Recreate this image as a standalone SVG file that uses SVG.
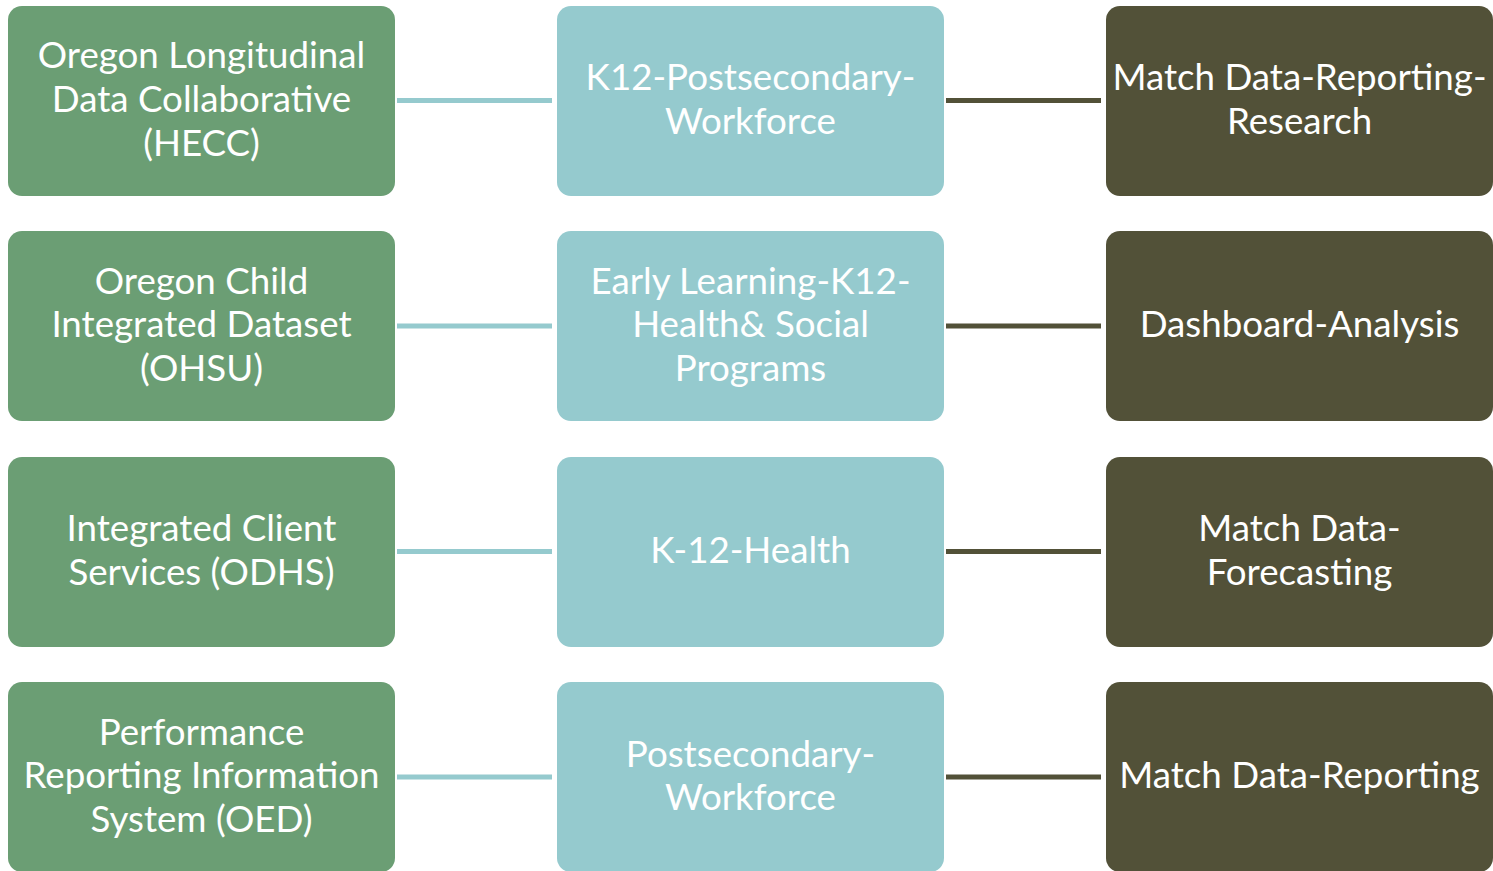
<svg xmlns="http://www.w3.org/2000/svg" width="1493" height="871" viewBox="0 0 1493 871">
<style>
.n rect{stroke:none}
.g rect{fill:#6B9E74}
.t rect{fill:#95CACE}
.d rect{fill:#525138}
text{font-family:Lato,"Liberation Sans",sans-serif;font-size:36.7px;fill:#ffffff;text-anchor:middle;dominant-baseline:central}
.c1{stroke:#95CACE;stroke-width:5}
.c2{stroke:#525138;stroke-width:5}
</style>
<rect width="1493" height="871" fill="#ffffff"/>
<g id="connectors">
<line class="c1" x1="397" y1="100.5" x2="552" y2="100.5"/>
<line class="c1" x1="397" y1="326" x2="552" y2="326"/>
<line class="c1" x1="397" y1="551.5" x2="552" y2="551.5"/>
<line class="c1" x1="397" y1="777" x2="552" y2="777"/>
<line class="c2" x1="946" y1="100.5" x2="1101" y2="100.5"/>
<line class="c2" x1="946" y1="326" x2="1101" y2="326"/>
<line class="c2" x1="946" y1="551.5" x2="1101" y2="551.5"/>
<line class="c2" x1="946" y1="777" x2="1101" y2="777"/>
</g>
<g id="n1" class="n g"><rect x="8" y="6" width="387" height="190" rx="14"/><text x="201.5" y="54">Oregon Longitudinal</text><text x="201.5" y="98">Data Collaborative</text><text x="201.5" y="142">(HECC)</text></g>
<g id="n2" class="n g"><rect x="8" y="231" width="387" height="190" rx="14"/><text x="201.5" y="280">Oregon Child</text><text x="201.5" y="323">Integrated Dataset</text><text x="201.5" y="367">(OHSU)</text></g>
<g id="n3" class="n g"><rect x="8" y="457" width="387" height="190" rx="14"/><text x="201.5" y="527">Integrated Client</text><text x="201.5" y="571">Services (ODHS)</text></g>
<g id="n4" class="n g"><rect x="8" y="682" width="387" height="190" rx="14"/><text x="201.5" y="731">Performance</text><text x="201.5" y="774">Reporting Information</text><text x="201.5" y="818">System (OED)</text></g>
<g id="n5" class="n t"><rect x="557" y="6" width="387" height="190" rx="14"/><text x="750.5" y="76">K12-Postsecondary-</text><text x="750.5" y="120">Workforce</text></g>
<g id="n6" class="n t"><rect x="557" y="231" width="387" height="190" rx="14"/><text x="750.5" y="280">Early Learning-K12-</text><text x="750.5" y="323">Health&amp; Social</text><text x="750.5" y="367">Programs</text></g>
<g id="n7" class="n t"><rect x="557" y="457" width="387" height="190" rx="14"/><text x="750.5" y="549">K-12-Health</text></g>
<g id="n8" class="n t"><rect x="557" y="682" width="387" height="190" rx="14"/><text x="750.5" y="753">Postsecondary-</text><text x="750.5" y="796">Workforce</text></g>
<g id="n9" class="n d"><rect x="1106" y="6" width="387" height="190" rx="14"/><text x="1299.5" y="76">Match Data-Reporting-</text><text x="1299.5" y="120">Research</text></g>
<g id="n10" class="n d"><rect x="1106" y="231" width="387" height="190" rx="14"/><text x="1299.5" y="323">Dashboard-Analysis</text></g>
<g id="n11" class="n d"><rect x="1106" y="457" width="387" height="190" rx="14"/><text x="1299.5" y="527">Match Data-</text><text x="1299.5" y="571">Forecasting</text></g>
<g id="n12" class="n d"><rect x="1106" y="682" width="387" height="190" rx="14"/><text x="1299.5" y="774">Match Data-Reporting</text></g>
</svg>
